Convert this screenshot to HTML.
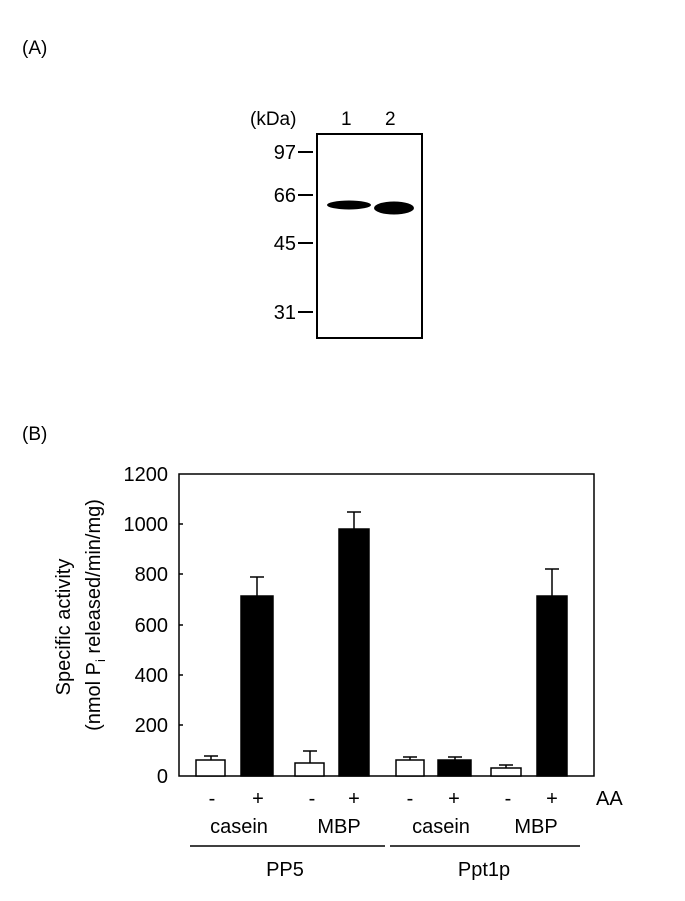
<!DOCTYPE html>
<html><head><meta charset="utf-8"><style>
body{margin:0;background:#fff}
svg{display:block;font-family:"Liberation Sans",Arial,sans-serif}
</style></head><body>
<svg width="685" height="901" viewBox="0 0 685 901">
<text x="22" y="54" font-size="19">(A)</text>
<text x="22" y="440" font-size="19">(B)</text>
<!-- blot -->
<text x="250" y="125" font-size="19">(kDa)</text>
<text x="341" y="125" font-size="19">1</text>
<text x="385" y="125" font-size="19">2</text>
<rect x="317" y="134" width="105" height="204" fill="none" stroke="#000" stroke-width="2"/>
<g font-size="20" text-anchor="end">
<text x="296" y="159">97</text><text x="296" y="202">66</text>
<text x="296" y="250">45</text><text x="296" y="319">31</text>
</g>
<g stroke="#000" stroke-width="2">
<line x1="298" y1="152" x2="313" y2="152"/><line x1="298" y1="195" x2="313" y2="195"/>
<line x1="298" y1="243" x2="313" y2="243"/><line x1="298" y1="312" x2="313" y2="312"/>
</g>
<ellipse cx="349" cy="205" rx="22" ry="4.5" fill="#000"/>
<ellipse cx="394" cy="208" rx="20" ry="6.5" fill="#000"/>
<!-- chart -->
<rect x="179" y="474" width="415" height="302" fill="none" stroke="#000" stroke-width="1.5"/>
<g font-size="20" text-anchor="end">
<text x="168" y="481">1200</text><text x="168" y="531">1000</text>
<text x="168" y="581">800</text><text x="168" y="632">600</text>
<text x="168" y="682">400</text><text x="168" y="732">200</text>
<text x="168" y="783">0</text>
</g>
<g stroke="#000" stroke-width="1.5">
<line x1="179" y1="524" x2="183" y2="524"/><line x1="179" y1="574" x2="183" y2="574"/>
<line x1="179" y1="625" x2="183" y2="625"/><line x1="179" y1="675" x2="183" y2="675"/>
<line x1="179" y1="725" x2="183" y2="725"/>
</g>
<text transform="translate(70,627) rotate(-90)" font-size="20" text-anchor="middle">Specific activity</text>
<text transform="translate(100,615) rotate(-90)" font-size="20" text-anchor="middle">(nmol P<tspan font-size="13" dy="5">i</tspan><tspan dy="-5"> released/min/mg)</tspan></text>
<g stroke="#000" stroke-width="1.5">
<line x1="211" y1="760" x2="211" y2="756"/><line x1="204" y1="756" x2="218" y2="756"/>
<line x1="257" y1="596" x2="257" y2="577"/><line x1="250" y1="577" x2="264" y2="577"/>
<line x1="310" y1="763" x2="310" y2="751"/><line x1="303" y1="751" x2="317" y2="751"/>
<line x1="354" y1="529" x2="354" y2="512"/><line x1="347" y1="512" x2="361" y2="512"/>
<line x1="410" y1="760" x2="410" y2="757"/><line x1="403" y1="757" x2="417" y2="757"/>
<line x1="455" y1="760" x2="455" y2="757"/><line x1="448" y1="757" x2="462" y2="757"/>
<line x1="506" y1="768" x2="506" y2="765"/><line x1="499" y1="765" x2="513" y2="765"/>
<line x1="552" y1="596" x2="552" y2="569"/><line x1="545" y1="569" x2="559" y2="569"/>
<rect x="196" y="760" width="29" height="16" fill="#fff"/>
<rect x="241" y="596" width="32" height="180" fill="#000"/>
<rect x="295" y="763" width="29" height="13" fill="#fff"/>
<rect x="339" y="529" width="30" height="247" fill="#000"/>
<rect x="396" y="760" width="28" height="16" fill="#fff"/>
<rect x="438" y="760" width="33" height="16" fill="#000"/>
<rect x="491" y="768" width="30" height="8" fill="#fff"/>
<rect x="537" y="596" width="30" height="180" fill="#000"/>
</g>
<g font-size="20" text-anchor="middle">
<text x="212" y="805">-</text><text x="258" y="805">+</text>
<text x="312" y="805">-</text><text x="354" y="805">+</text>
<text x="410" y="805">-</text><text x="454" y="805">+</text>
<text x="508" y="805">-</text><text x="552" y="805">+</text>
<text x="596" y="805" text-anchor="start">AA</text>
<text x="239" y="833">casein</text><text x="339" y="833">MBP</text>
<text x="441" y="833">casein</text><text x="536" y="833">MBP</text>
<text x="285" y="876">PP5</text><text x="484" y="876">Ppt1p</text>
</g>
<line x1="190" y1="846" x2="385" y2="846" stroke="#000" stroke-width="1.5"/>
<line x1="390" y1="846" x2="580" y2="846" stroke="#000" stroke-width="1.5"/>
</svg>
</body></html>
